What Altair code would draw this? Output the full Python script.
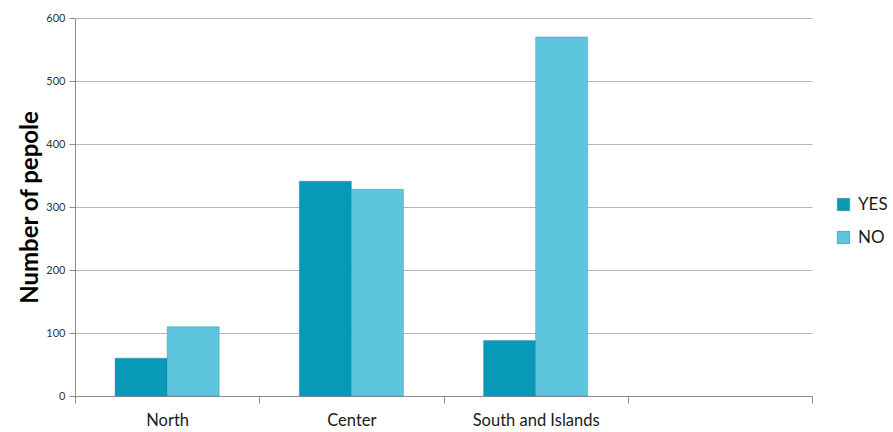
import altair as alt
import pandas as pd

regions = ["North", "Center", "South and Islands"]
all_slots = ["North", "Center", "South and Islands", " "]
answers = ["YES", "NO"]
yes_values = [60, 341, 88]
no_values = [110, 328, 570]
colors = ["#0799b7", "#5ec5df"]

rows = []
for r, y, n in zip(regions, yes_values, no_values):
    rows.append({"region": r, "answer": "YES", "people": y})
    rows.append({"region": r, "answer": "NO", "people": n})
df = pd.DataFrame(rows)

font = "Lato"

chart = alt.Chart(df).mark_bar(stroke="#2b7f93", strokeWidth=0.6, strokeOpacity=0.6).encode(
    x=alt.X("region:N", sort=all_slots,
            scale=alt.Scale(domain=all_slots, paddingInner=0, paddingOuter=0),
            axis=alt.Axis(title=None, labelAngle=0, tickBand="extent", tickSize=7,
                          labelPadding=9, labelFontSize=16.5, labelColor="#1a1a1a",
                          labelFont=font, domainColor="#8c8c8c", tickColor="#8c8c8c",
                          grid=False)),
    xOffset=alt.XOffset("answer:N", sort=answers,
                        scale=alt.Scale(domain=answers, paddingInner=0, paddingOuter=0.77)),
    y=alt.Y("people:Q", scale=alt.Scale(domain=[0, 600]),
            axis=alt.Axis(title="Number of pepole", values=[0, 100, 200, 300, 400, 500, 600],
                          tickSize=6, labelPadding=4, labelFontSize=11, labelColor="#333333",
                          labelFont=font, titleFont=font, titleFontSize=24, titleFontWeight="bold",
                          titleColor="#000000", titleAngle=270, titleX=-45, titleY=189,
                          titleAlign="center", titleBaseline="middle",
                          domainColor="#8c8c8c", tickColor="#8c8c8c",
                          gridColor="#b5b5b5", gridWidth=1.2)),
    color=alt.Color("answer:N", sort=answers,
                    scale=alt.Scale(domain=answers, range=colors),
                    legend=alt.Legend(title=None, orient="none", legendX=760, legendY=178,
                                      symbolType="square", symbolSize=150,
                                      symbolStrokeColor="#2b7f93", symbolStrokeWidth=0.6,
                                      labelFontSize=17, labelFont=font, labelColor="#1a1a1a",
                                      rowPadding=15, labelOffset=6)),
).properties(
    width=737, height=378,
    background="white",
    autosize=alt.AutoSizeParams(type="none"),
    padding={"left": 75, "top": 18, "right": 81, "bottom": 36},
).configure_view(stroke=None)

chart.save("out.html", embed_options={"renderer": "svg", "actions": False})
